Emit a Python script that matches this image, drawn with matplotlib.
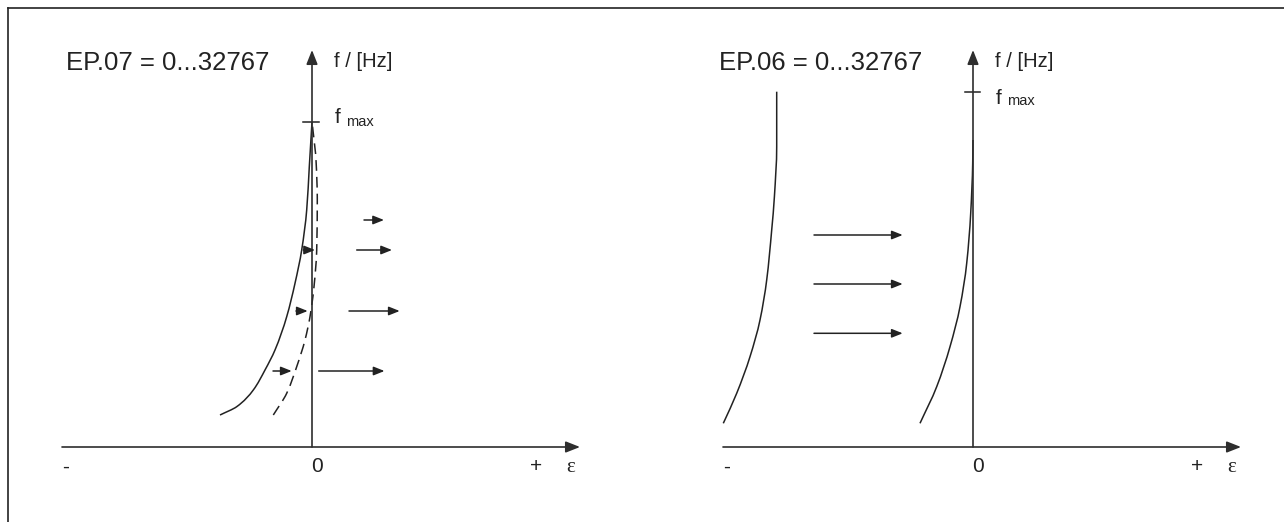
import matplotlib
matplotlib.use("Agg")
import matplotlib.pyplot as plt
from matplotlib.lines import Line2D
from matplotlib.path import Path
from matplotlib.patches import PathPatch

# ---------------- data (diagram units: 1 unit = 1 px, origin at axes crossing) ----------------
# Left panel (EP.07)
left_title = "EP.07 = 0...32767"
left_solid_eps = [-92, -75.3, -58.7, -47, -37, -25.3, -17, -10.3, -5.3, -2.7, 0]
left_solid_f = [32, 40.3, 57, 77, 97, 130.3, 163.7, 197, 237, 280.3, 325]
left_dash_eps = [-38.7, -25.3, -15.3, -7, -2, 2, 4.7, 5.3, 4, 1.3, 0]
left_dash_f = [32, 53.7, 80.3, 107, 130.3, 160.3, 197, 247, 287, 313.7, 325]
left_fmax = 325
# small arrows (between curves) and long arrows (right of axis): level, start, end
left_small_f = [197, 136, 76]
left_small_start = [-8.7, -16, -39]
left_small_end = [3, -4.3, -20.3]
left_big_f = [227, 197, 136, 76]
left_big_start = [52, 44.7, 37, 6.7]
left_big_end = [72, 80, 87.7, 72.5]

# Right panel (EP.06)
right_title = "EP.06 = 0...32767"
right_c1_eps = [-249.7, -236.3, -223, -213, -206.3, -201.3, -198.6, -196.3, -196.3]
right_c1_f = [23.7, 53.7, 90.3, 127, 167, 217, 250.3, 300.3, 355.3]
right_c2_eps = [-53, -36.3, -23, -13, -6.3, -2.3, -0.3, 0]
right_c2_f = [23.7, 60.3, 100.3, 140.3, 183.7, 233.7, 283.7, 307]
right_fmax = 355
right_arrow_f = [212, 163, 113.7]
right_arrow_start = [-159, -159, -159]
right_arrow_end = [-70.3, -70.3, -70.3]

# axis labels
y_label = "f / [Hz]"
x_labels = ["-", "0", "+"]
x_symbol = "ε"

# ---------------- layout ----------------
W, H = 1284, 522
fig = plt.figure(figsize=(W / 100, H / 100), dpi=100)
plt.rcParams['font.family'] = ['Liberation Sans', 'DejaVu Sans']

INK = "#222222"
AX_INK = "#2e2e2e"

# outer frame (top and left edges)
fig.add_artist(Line2D([8 / W, 8 / W], [0, 1 - 8 / H], color=INK, lw=1.2, transform=fig.transFigure))
fig.add_artist(Line2D([8 / W, 1], [1 - 8 / H, 1 - 8 / H], color=INK, lw=1.2, transform=fig.transFigure))


def make_panel(ox, oy):
    ax = fig.add_axes([0, 0, 1, 1])
    ax.set_xlim(-ox, W - ox)
    ax.set_ylim(-(H - oy), oy)
    ax.axis("off")
    ax.patch.set_alpha(0)
    return ax


def _pchip_slopes(t, x):
    n = len(t)
    h = [t[i + 1] - t[i] for i in range(n - 1)]
    dl = [(x[i + 1] - x[i]) / h[i] for i in range(n - 1)]
    d = [0.0] * n
    for i in range(1, n - 1):
        if dl[i - 1] * dl[i] <= 0:
            d[i] = 0.0
        else:
            w1 = 2 * h[i] + h[i - 1]
            w2 = h[i] + 2 * h[i - 1]
            d[i] = (w1 + w2) / (w1 / dl[i - 1] + w2 / dl[i])
    d[0] = dl[0]
    d[-1] = dl[-1]
    return d


def smooth_curve(ax, eps, f, **kw):
    """Smooth curve through the read points: eps as a monotone cubic of f, drawn as Beziers."""
    d = _pchip_slopes(f, eps)
    verts = [(eps[0], f[0])]
    codes = [Path.MOVETO]
    for i in range(len(f) - 1):
        h = f[i + 1] - f[i]
        verts += [(eps[i] + d[i] * h / 3, f[i] + h / 3),
                  (eps[i + 1] - d[i + 1] * h / 3, f[i + 1] - h / 3),
                  (eps[i + 1], f[i + 1])]
        codes += [Path.CURVE4] * 3
    ax.add_patch(PathPatch(Path(verts, codes), facecolor="none", **kw))


def arrow(ax, x0, y0, x1, y1, big=False, color=INK):
    if big:
        style = "-|>,head_length=0.86,head_width=0.34"
        lw = 1.2
    else:
        style = "-|>,head_length=0.65,head_width=0.26"
        lw = 1.1
    ax.annotate("", xy=(x1, y1), xytext=(x0, y0),
                arrowprops=dict(arrowstyle=style, mutation_scale=10, lw=lw,
                                color=color, shrinkA=0, shrinkB=0))


def draw_axes(ax, f_text_base, max_text_base):
    arrow(ax, -250, 0, 268, 0, big=True, color=AX_INK)
    arrow(ax, 0, 0, 0, 397, big=True, color=AX_INK)
    ax.text(-246, -20, x_labels[0], fontsize=15, ha="center", va="center", color=INK)
    ax.text(5, -20, x_labels[1], fontsize=15, ha="center", va="center", color=INK)
    ax.text(224, -20, x_labels[2], fontsize=15, ha="center", va="center", color=INK)
    ax.text(259, -20, x_symbol, fontsize=15, ha="center", va="center", color=INK,
            family=["Liberation Serif", "DejaVu Serif"])
    ax.text(22, 380, y_label, fontsize=14.5, ha="left", va="baseline", color=INK)
    ax.text(23, f_text_base, "f", fontsize=15, ha="left", va="baseline", color=INK)
    ax.text(34, max_text_base, "max", fontsize=10.5, ha="left", va="baseline", color=INK)


# left panel
axL = make_panel(312, 447)
draw_axes(axL, 324, 320.5)
axL.text(-246, 377, left_title, fontsize=18.5, ha="left", va="baseline", color=INK)
axL.plot([-9, 6.5], [left_fmax, left_fmax], color=INK, lw=1.1)
smooth_curve(axL, left_solid_eps, left_solid_f, edgecolor=INK, lw=1.1)
smooth_curve(axL, left_dash_eps, left_dash_f, edgecolor=INK, lw=1.1, linestyle=(0, (7, 4)))
for f, a, b in zip(left_small_f, left_small_start, left_small_end):
    arrow(axL, a, f, b, f)
for f, a, b in zip(left_big_f, left_big_start, left_big_end):
    arrow(axL, a, f, b, f)

# right panel
axR = make_panel(973, 447)
draw_axes(axR, 343.5, 342)
axR.text(-254, 376.5, right_title, fontsize=18.5, ha="left", va="baseline", color=INK)
axR.plot([-8, 7], [right_fmax, right_fmax], color=INK, lw=1.1)
smooth_curve(axR, right_c1_eps, right_c1_f, edgecolor=INK, lw=1.1)
smooth_curve(axR, right_c2_eps, right_c2_f, edgecolor=INK, lw=1.1)
for f, a, b in zip(right_arrow_f, right_arrow_start, right_arrow_end):
    arrow(axR, a, f, b, f)

fig.savefig("out.png", dpi=100)
